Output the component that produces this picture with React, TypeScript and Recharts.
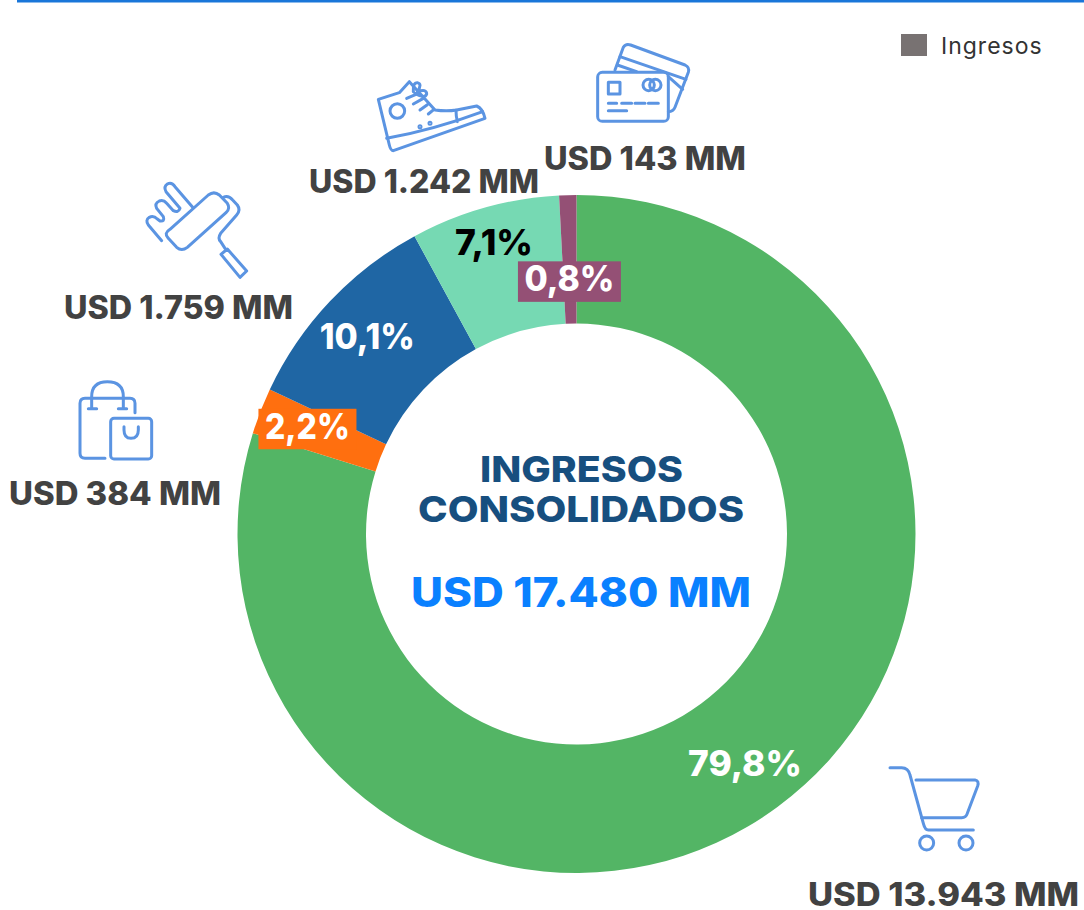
import React from 'react';
import { PieChart, Pie, Cell, Legend } from 'recharts';

const WIDTH = 1084;
const HEIGHT = 910;
const FONT = 'Inter, "Open Sans", sans-serif';
const ICON_BLUE = '#5B94E2';

const SEGMENTS = ['Consumo', 'Tiendas', 'Pinturas', 'Calzado', 'Tarjetas'];
const VALUES = [13943, 384, 1759, 1242, 143];
const COLORS = ['#53B565', '#FF6F0F', '#1F66A4', '#76D9B3', '#945075'];
const LABEL_COLORS = ['#FFFFFF', '#FFFFFF', '#FFFFFF', '#000000', '#FFFFFF'];
const SERIES_NAME = 'Ingresos';
const TITLE_LINES = ['INGRESOS', 'CONSOLIDADOS'];
const TOTAL_LABEL = 'USD 17.480 MM';

const total = VALUES.reduce((sum, v) => sum + v, 0);
const chartData = SEGMENTS.map((name, i) => ({ name, value: VALUES[i] }));

// hand placed labels, the original moved them off the ring centre
const PCT_NUDGE = [
  { dx: 5.6, dy: 20.5, w: 114 },
  { dx: -13, dy: 4.4, w: 85 },
  { dx: -9.4, dy: 3.8, w: 95 },
  { dx: -8, dy: -15, w: 78 },
  { dx: 0, dy: 32, w: 90 },
];
const USD_POS = [
  { x: 943.5, y: 905.5, w: 271 },
  { x: 115, y: 505, w: 212 },
  { x: 178.5, y: 318.5, w: 229 },
  { x: 424, y: 193, w: 230 },
  { x: 645, y: 170, w: 202 },
];

const formatPct = (v: number) => `${((v / total) * 100).toFixed(1).replace('.', ',')}%`;
const formatUsd = (v: number) => `USD ${v.toLocaleString('de-DE')} MM`;

const renderPctLabel = (props: any) => {
  const { cx, cy, midAngle, innerRadius, outerRadius, index } = props;
  const r = (innerRadius + outerRadius) / 2;
  const rad = (-midAngle * Math.PI) / 180;
  const nudge = PCT_NUDGE[index];
  const x = cx + r * Math.cos(rad) + nudge.dx;
  const y = cy + r * Math.sin(rad) + nudge.dy;
  const small = VALUES[index] / total < 0.03;
  return (
    <g key={`pct-${index}`}>
      {small && (
        <rect x={x - nudge.w / 2 - 6.5} y={y - 30} width={nudge.w + 13} height={40.5} fill={COLORS[index]} />
      )}
      <text
        x={x}
        y={y}
        textAnchor="middle"
        fontFamily={FONT}
        fontWeight={800}
        fontSize={35}
        fill={LABEL_COLORS[index]}
        textLength={nudge.w}
        lengthAdjust="spacingAndGlyphs"
      >
        {formatPct(VALUES[index])}
      </text>
    </g>
  );
};

const renderLegend = () => (
  <div style={{ display: 'flex', alignItems: 'center', fontFamily: FONT, height: 22 }}>
    <div style={{ width: 26, height: 22, background: '#787272', marginRight: 14 }} />
    <span style={{ fontSize: 23, color: '#333', letterSpacing: 1, position: 'relative', top: 1 }}>{SERIES_NAME}</span>
  </div>
);

// icons are traced at 3x, so they get drawn scaled down
const Icon = ({ x, y, children }: { x: number; y: number; children: React.ReactNode }) => (
  <g
    transform={`translate(${x} ${y}) scale(${1 / 3})`}
    fill="none"
    stroke={ICON_BLUE}
    strokeWidth={9}
    strokeLinecap="round"
    strokeLinejoin="round"
  >
    {children}
  </g>
);

const Icons = () => (
  <>
    <Icon x={360} y={30}>
      <path d="M55 208 L118 188 L148 155 L225 240 Q260 245 290 240 L350 228 Q368 235 375 265 L100 362 Q92 362 88 345 Z" />
      <path d="M80 325 Q220 300 368 245 M288 240 Q288 260 292 275" />
      <circle cx={112} cy={243} r={22} />
      <circle cx={180} cy={290} r={3} />
      <circle cx={210} cy={280} r={3} />
      <path d="M140 205 L175 190 M160 222 L190 205 M180 240 L202 224 M205 252 L222 238" />
      <path d="M160 185 Q158 158 172 158 Q188 162 172 185 Q200 175 200 192 Q195 208 165 190" />
    </Icon>
    <Icon x={360} y={30}>
      <path d="M765 120 L790 52 Q797 40 812 45 L975 105 Q990 112 985 127 L945 232 Q940 245 925 245" />
      <path d="M780 80 L978 148 M772 105 L830 125 M925 140 L968 178" />
      <rect x={713} y={127} width={212} height={147} rx={14} />
      <rect x={745} y={157} width={35} height={35} />
      <circle cx={866} cy={165} r={17} />
      <circle cx={886} cy={165} r={17} />
      <path d="M745 220 H770 M785 220 H815 M825 220 H855 M865 220 H895 M745 242 H800" />
    </Icon>
    <Icon x={60} y={170}>
      <path d="M330 178 L445 75 Q462 62 478 75 L502 100 Q512 115 498 128 L382 232 Q365 245 350 232 L325 205 Q310 190 330 178 Z" />
      <path d="M490 82 Q505 75 518 90 L532 105 Q543 120 530 135 L482 190 Q472 205 482 215 L495 235" />
      <path d="M483 253 L502 237 L560 303 L540 322 Z" />
      <path d="M305 212 L265 165 Q255 150 268 142 Q280 135 292 147 L300 153 Q315 155 310 140 L290 115 Q283 100 298 93 Q310 88 320 100 L340 122 Q355 130 360 115 L318 65 Q310 50 322 42 Q335 35 345 50 L398 112" />
    </Icon>
    <Icon x={60} y={170}>
      <path d="M135 865 L75 865 Q60 865 60 850 L60 700 Q60 685 75 685 L210 685 Q225 685 225 700 L225 728" />
      <path d="M95 715 V680 Q95 635 142 635 Q190 635 190 680 V715 M85 716 H110 M175 716 H200" />
      <rect x={152} y={745} width={123} height={122} rx={10} />
      <path d="M192 770 V780 Q192 805 213 805 Q235 805 235 780 V770" />
    </Icon>
    <Icon x={860} y={750}>
      <path d="M90 53 H125 Q145 53 150 75 L190 220 Q195 240 205 240 H340" />
      <path d="M168 90 H345 Q358 92 353 108 L322 190 Q318 203 305 203 H185" />
      <circle cx={200} cy={279} r={21} />
      <circle cx={318} cy={279} r={21} />
    </Icon>
  </>
);

const App = () => (
  <div style={{ position: 'absolute', left: 0, top: 0, width: WIDTH, height: HEIGHT, background: '#fff' }}>
    <PieChart width={WIDTH} height={HEIGHT} margin={{ top: 0, right: 0, bottom: 0, left: 0 }}>
      <Pie
        data={chartData}
        dataKey="value"
        nameKey="name"
        cx={576.5}
        cy={534}
        innerRadius={210.5}
        outerRadius={339}
        startAngle={90}
        endAngle={-270}
        stroke="none"
        label={renderPctLabel}
        labelLine={false}
        isAnimationActive={false}
      >
        {chartData.map((_, i) => (
          <Cell key={`cell-${i}`} fill={COLORS[i]} />
        ))}
      </Pie>
      <Legend
        content={renderLegend}
        wrapperStyle={{ position: 'absolute', left: 901, top: 34, width: 170, bottom: 'auto' }}
      />
    </PieChart>

    <svg width={WIDTH} height={HEIGHT} style={{ position: 'absolute', left: 0, top: 0, pointerEvents: 'none' }}>
      <rect x={17} y={0} width={WIDTH - 17} height={2.5} fill="#1976D9" />
      <Icons />
      {VALUES.map((v, i) => (
        <text
          key={SEGMENTS[i]}
          x={USD_POS[i].x}
          y={USD_POS[i].y}
          textAnchor="middle"
          fontFamily={FONT}
          fontWeight={800}
          fontSize={32}
          fill="#424242"
          textLength={USD_POS[i].w}
          lengthAdjust="spacingAndGlyphs"
        >
          {formatUsd(v)}
        </text>
      ))}
      <g textAnchor="middle" fontFamily={FONT} fontWeight={800}>
        <text x={581.5} y={482} fontSize={36} fill="#174F7F" textLength={203} lengthAdjust="spacingAndGlyphs">
          {TITLE_LINES[0]}
        </text>
        <text x={581} y={521.5} fontSize={36} fill="#174F7F" textLength={326} lengthAdjust="spacingAndGlyphs">
          {TITLE_LINES[1]}
        </text>
        <text x={581} y={606.5} fontSize={41} fill="#0A80FF" textLength={340} lengthAdjust="spacingAndGlyphs">
          {TOTAL_LABEL}
        </text>
      </g>
    </svg>
  </div>
);

export default App;
